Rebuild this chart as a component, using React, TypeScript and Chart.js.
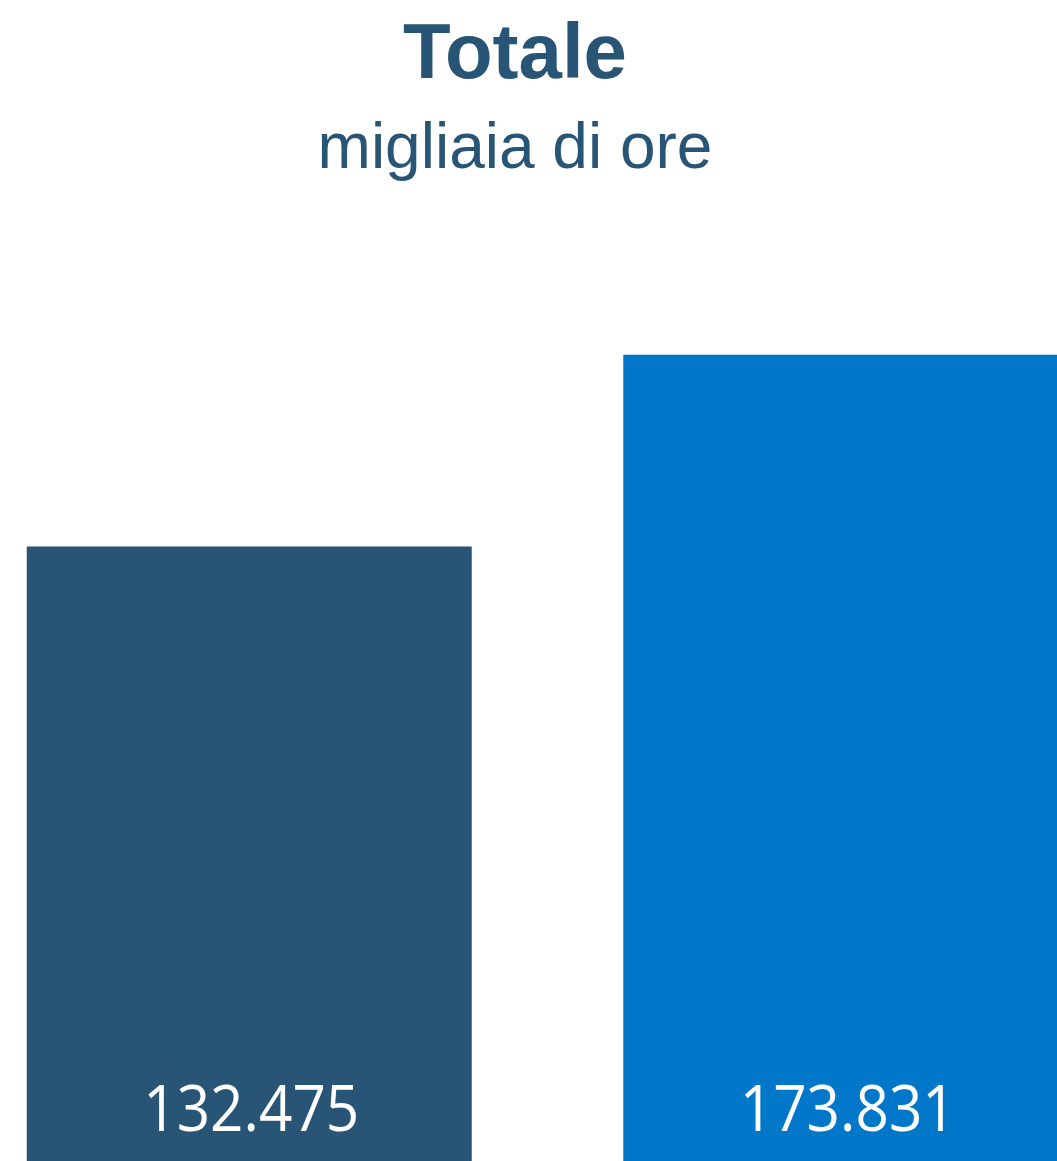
import React, { useEffect, useRef } from "react";
import { Chart, registerables } from "chart.js";

Chart.register(...registerables);

const categories: string[] = ["Periodo 1", "Periodo 2"];
const values: number[] = [132475, 173831];
const barColors: string[] = ["#285575", "#0077C9"];
const titleText = "Totale";
const subtitleText = "migliaia di ore";

function formatIt(n: number): string {
  const s = Math.round(n).toString();
  return s.replace(/\B(?=(\d{3})+(?!\d))/g, ".");
}

const valueLabels = {
  id: "valueLabels",
  afterDatasetsDraw(chart: any) {
    const ctx = chart.ctx;
    const meta = chart.getDatasetMeta(0);
    ctx.save();
    ctx.fillStyle = "#ffffff";
    ctx.font = "58.5px 'Open Sans'";
    ctx.textAlign = "center";
    ctx.textBaseline = "alphabetic";
    meta.data.forEach((bar: any, i: number) => {
      const v = chart.data.datasets[0].data[i] as number;
      ctx.save();
      ctx.translate(bar.x + 2, bar.base - 30);
      ctx.scale(1, 1.1);
      ctx.fillText(formatIt(v), 0, 0);
      ctx.restore();
    });
    ctx.restore();
  },
};

export default function App() {
  const ref = useRef<HTMLCanvasElement | null>(null);
  useEffect(() => {
    if (!ref.current) return;
    const chart = new Chart(ref.current, {
      type: "bar",
      data: {
        labels: categories,
        datasets: [
          {
            data: values,
            backgroundColor: barColors,
            borderWidth: 0,
            barPercentage: 0.746,
            categoryPercentage: 1,
          },
        ],
      },
      options: {
        responsive: false,
        animation: false,
        layout: { padding: 0 },
        plugins: {
          legend: { display: false },
          tooltip: { enabled: false },
          title: {
            display: true,
            text: titleText,
            color: "#285575",
            font: { family: "'Liberation Sans', Arial, sans-serif", size: 78, weight: "bold", lineHeight: 1.2 },
            padding: { top: 10, bottom: 0 },
          },
          subtitle: {
            display: true,
            text: subtitleText,
            color: "#285575",
            font: { family: "'Liberation Sans', Arial, sans-serif", size: 64, weight: "normal", lineHeight: 1.2 },
            padding: { top: 8, bottom: 46 },
          },
        },
        scales: {
          x: {
            display: false,
            offset: true,
          },
          y: {
            display: true,
            min: 0,
            max: 199750,
            ticks: { display: false },
            grid: { display: false },
            border: { display: false },
            afterFit: (scale: any) => {
              scale.width = 65;
            },
          },
        },
      },
      plugins: [valueLabels],
    });
    return () => chart.destroy();
  }, []);

  return (
    <div
      style={{
        position: "fixed",
        left: 0,
        top: 0,
        width: 1057,
        height: 1161,
        overflow: "hidden",
        background: "#ffffff",
      }}
    >
      <canvas
        ref={ref}
        width={1258}
        height={1161}
        style={{ position: "absolute", left: -114, top: 0, width: 1258, height: 1161 }}
      />
    </div>
  );
}
